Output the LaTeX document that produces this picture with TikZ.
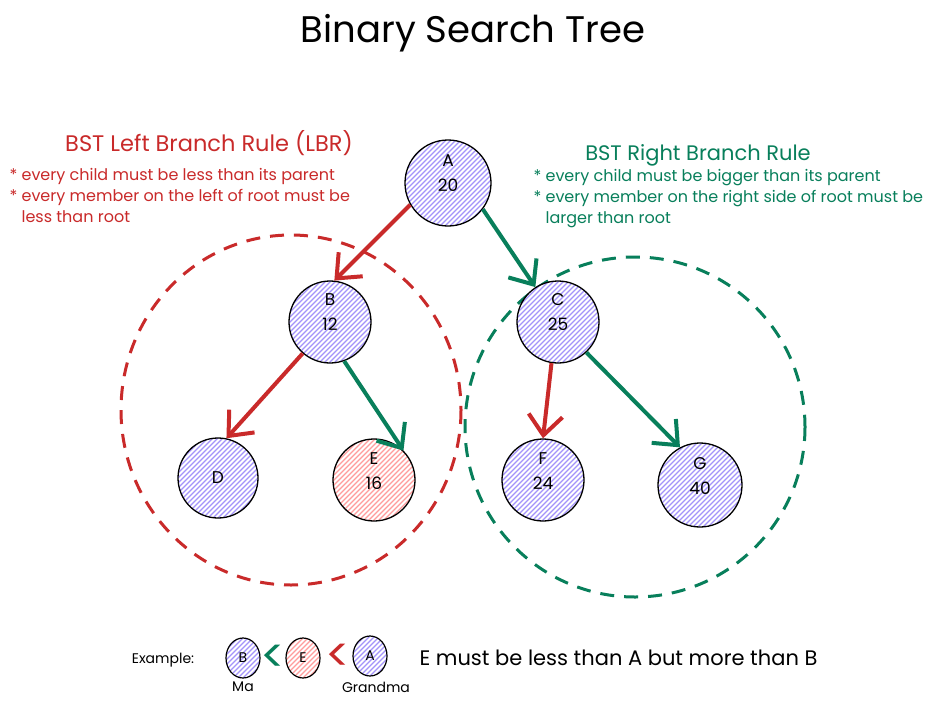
\documentclass[tikz,border=0pt]{standalone}
\usepackage{fontspec}
\setmainfont{Poppins}
\usetikzlibrary{arrows.meta,shapes.geometric}
\definecolor{bstred}{HTML}{C92A2A}
\definecolor{bstgreen}{HTML}{087F5B}
\definecolor{hatchblue}{HTML}{A393FA}
\definecolor{hatchpink}{HTML}{FF9C9C}
\tikzset{
  hatched/.style={fill=white, path picture={
     \foreach \i in {-85,-80,...,85}
       \draw[draw=#1, line width=1.3pt] ([xshift=\i pt-60pt, yshift=-60pt]path picture bounding box.center) -- ++(120pt,120pt);}},
  treenode/.style={circle, draw=black, line width=1.3pt, minimum size=#1, inner sep=0pt, hatched=hatchblue},
  pinktree/.style={circle, draw=black, line width=1.3pt, minimum size=#1, inner sep=0pt, hatched=hatchpink},
  nodelabel/.style={font=\fontsize{17}{25}\selectfont, align=center, inner sep=0pt},
  smallnode/.style={ellipse, draw=black, line width=1.2pt, minimum width=34pt, minimum height=40pt, inner sep=0pt,
    hatched=hatchblue, font=\fontsize{14}{16}\selectfont},
  smallpink/.style={ellipse, draw=black, line width=1.2pt, minimum width=34pt, minimum height=40pt, inner sep=0pt,
    hatched=hatchpink, font=\fontsize{14}{16}\selectfont},
  redarrow/.style={draw=bstred, line width=4pt, -{Straight Barb[length=20pt,width=34pt,line width=4pt]}},
  greenarrow/.style={draw=bstgreen, line width=4pt, -{Straight Barb[length=20pt,width=34pt,line width=4pt]}},
  dashring/.style={line width=3pt, dash pattern=on 14pt off 10pt},
  ruletext/.style={font=\fontsize{16}{21}\selectfont, align=left, anchor=north west},
  smalltext/.style={font=\fontsize{14}{16}\selectfont},
  lessthan/.style={font=\fontsize{46}{46}\selectfont, inner sep=0pt},
}
\begin{document}
\begin{tikzpicture}[x=1pt,y=-1pt]
\useasboundingbox[fill=white] (0,0) rectangle (936,704);

% title
\node[font=\fontsize{37}{44}\selectfont] (title) at (473,33) {Binary Search Tree};

% dashed rings
\draw[dashring, bstred] (291,410) ellipse [x radius=170, y radius=175];
\draw[dashring, bstgreen] (635,427) ellipse [x radius=170, y radius=170];

% rules
\node[font=\fontsize{22.5}{26}\selectfont, text=bstred] (lefthead) at (209,143) {BST Left Branch Rule (LBR)};
\node[ruletext, text=bstred] (lefttext) at (6,165) {* every child must be less than its parent\\* every member on the left of root must be\\\phantom{* }less than root};
\node[font=\fontsize{21}{24}\selectfont, text=bstgreen] (righthead) at (698,155) {BST Right Branch Rule};
\node[ruletext, text=bstgreen] (righttext) at (530,166) {* every child must be bigger than its parent\\* every member on the right side of root must be\\\phantom{* }larger than root};

% tree nodes
\node[treenode=86pt] (A) at (448,183) {};
\node[treenode=82pt] (B) at (330,322) {};
\node[treenode=82pt] (C) at (558,322) {};
\node[treenode=80pt] (D) at (218,478) {};
\node[pinktree=82pt] (E) at (374,480) {};
\node[treenode=82pt] (F) at (543,480) {};
\node[treenode=84pt] (G) at (700,485) {};
\node[nodelabel] (Al) at ([yshift=10pt]A.center) {A\\20};
\node[nodelabel] (Bl) at ([yshift=10pt]B.center) {B\\12};
\node[nodelabel] (Cl) at ([yshift=10pt]C.center) {C\\25};
\node[nodelabel] (Dl) at (D.center) {D};
\node[nodelabel] (El) at ([yshift=9pt]E.center) {E\\16};
\node[nodelabel] (Fl) at ([yshift=9pt]F.center) {F\\24};
\node[nodelabel] (Gl) at ([yshift=9pt]G.center) {G\\40};

% arrows
\draw[redarrow] (A.210) -- (B.84);
\draw[greenarrow] (A.323) -- (C.123);
\draw[redarrow] (B.229) -- (D.78);
\draw[greenarrow] (B.290) -- (E.45);
\draw[redarrow] (C.261) -- (F.90);
\draw[greenarrow] (C.313) -- (G.118);

% example
\node[smalltext] (ex) at (163,660) {Example:};
\node[smallnode] (sB) at (243,658) {B};
\node[lessthan, text=bstgreen] (lt1) at (273,659) {<};
\node[smallpink] (sE) at (303,658) {E};
\node[lessthan, text=bstred] (lt2) at (338,658) {<};
\node[smallnode] (sA) at (370,656) {A};
\node[smalltext] (ma) at (243,687) {Ma};
\node[smalltext] (gm) at (376,687) {Grandma};
\node[font=\fontsize{21}{24}\selectfont, anchor=west] (sent) at (416,658) {E must be less than A but more than B};
\end{tikzpicture}
\end{document}
